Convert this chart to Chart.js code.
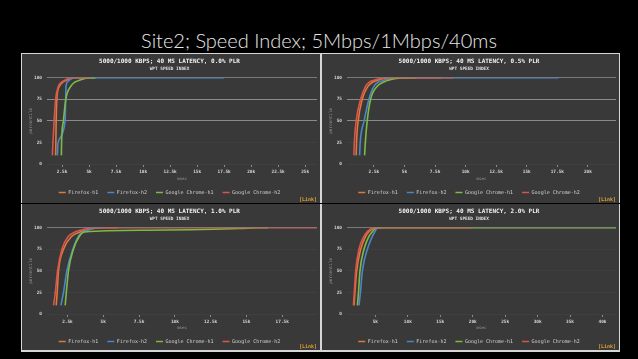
<!DOCTYPE html>
<html>
<head>
<meta charset="utf-8">
<script src="https://cdn.jsdelivr.net/npm/chart.js@4.4.0/dist/chart.umd.min.js"></script>
<style>
  html, body { margin: 0; padding: 0; background: #000; }
  body { width: 638px; height: 359px; position: relative; overflow: hidden; }
  .slide-title { position: absolute; left: 0; top: 27px; width: 638px; text-align: center;
    color: #e8e8e8; font: 300 20px Lato, sans-serif; line-height: 26px; white-space: nowrap; }
  .frame { position: absolute; left: 21px; top: 53px; width: 599px; height: 299px; background: #d6d6d6; }
  .divider { position: absolute; left: 21px; top: 203px; width: 599px; height: 1px; background: #000; }
  .panel { position: absolute; background: #393939; }
  .panel canvas { position: absolute; left: 0; top: 0; }
  .link { position: absolute; right: 3px; bottom: 1px; color: #e0a030;
    font: bold 5px 'DejaVu Sans Mono', monospace; }
</style>
</head>
<body>
<div class="slide-title">Site2; Speed Index; 5Mbps/1Mbps/40ms</div>
<div class="frame"></div>
<div class="divider"></div>
<div class="panel" style="left:22px;top:54px;width:298px;height:149px"><canvas id="chart0"></canvas><span class="link">[Link]</span></div>
<div class="panel" style="left:322px;top:54px;width:297px;height:149px"><canvas id="chart1"></canvas><span class="link">[Link]</span></div>
<div class="panel" style="left:22px;top:204px;width:298px;height:146px"><canvas id="chart2"></canvas><span class="link">[Link]</span></div>
<div class="panel" style="left:322px;top:204px;width:297px;height:146px"><canvas id="chart3"></canvas><span class="link">[Link]</span></div>

<script>
// --- data ---

const seriesNames = ['Firefox-h1', 'Firefox-h2', 'Google Chrome-h1', 'Google Chrome-h2'];
const plrLevels = ['0.0%', '0.5%', '1.0%', '2.0%'];

// percentile levels; the last entry is the end of the flat tail at 100
const percentiles = [10, 25, 50, 75, 90, 95, 97, 99, 100, 100];

// msec at each percentile level, one row per series (same order as seriesNames)
const timesPlr00 = [
  [1900, 1920, 1950, 2010, 2250, 2600, 2900, 3300, 3600, 5500],
  [2060, 2130, 2780, 2830, 2860, 3000, 3150, 3400, 3800, 17500],
  [2430, 2450, 2620, 2840, 3300, 3700, 4100, 4600, 5000, 5600],
  [1600, 1650, 1760, 1900, 2150, 2450, 2750, 3100, 3400, 5000]
];
const timesPlr05 = [
  [1054, 1080, 1217, 1544, 2012, 2421, 2800, 3300, 3727, 8000],
  [1330, 1380, 1700, 2093, 2500, 2900, 3300, 3800, 4272, 17600],
  [1740, 1800, 1953, 2230, 2771, 3315, 3700, 4300, 4812, 6000],
  [866, 900, 1050, 1413, 1820, 2148, 2500, 3000, 3454, 9000]
];
const timesPlr10 = [
  [1715, 1780, 1875, 2222, 2805, 3382, 3800, 4300, 4770, 6000],
  [2042, 2222, 2458, 2875, 3264, 3611, 3900, 4200, 4541, 5000],
  [2340, 2420, 2569, 2916, 3333, 3700, 8000, 14500, 16000, 16500],
  [1528, 1650, 1806, 2111, 2569, 3035, 3400, 3900, 4305, 19930]
];
const timesPlr20 = [
  [1717, 1850, 2123, 2738, 3507, 3950, 4250, 4600, 4783, 6000],
  [2477, 2700, 3000, 3768, 4537, 4900, 5050, 5200, 5306, 6000],
  [2230, 2400, 2630, 3245, 4014, 4500, 4700, 4950, 5045, 42080],
  [1615, 1750, 1969, 2476, 3245, 3700, 4000, 4350, 4537, 20000]
];

// x axis extent and tick positions (msec)
const xAxisMin = [1100, 300, 1070, 630];
const xAxisMax = [26100, 22300, 19930, 42080];
const xTicksPlr00 = [2500, 5000, 7500, 10000, 12500, 15000, 17500, 20000, 22500, 25000];
const xTicksPlr05 = [2500, 5000, 7500, 10000, 12500, 15000, 17500, 20000];
const xTicksPlr10 = [2500, 5000, 7500, 10000, 12500, 15000, 17500];
const xTicksPlr20 = [5000, 10000, 15000, 20000, 25000, 30000, 35000, 40000];
const yTicks = [0, 25, 50, 75, 100];

// --- look ---

const seriesColors = ['#e2783a', '#4a86c8', '#7dbb45', '#d8574c'];
const mono = "'DejaVu Sans Mono', monospace";

const panelData = [timesPlr00, timesPlr05, timesPlr10, timesPlr20];
const panelTicks = [xTicksPlr00, xTicksPlr05, xTicksPlr10, xTicksPlr20];

function gridColor(panelIdx, value) {
  if (value === 100) return '#7a7a7a';
  // the two upper screenshots show the 50/75 lines clearly
  if (panelIdx < 2 && (value === 50 || value === 75)) return '#8a8a8a';
  return '#3f3f3f';
}

function buildDatasets(times) {
  return seriesNames.map((name, s) => ({
    label: name,
    data: times[s].map((t, i) => ({ x: t, y: percentiles[i] })),
    borderColor: seriesColors[s],
    backgroundColor: seriesColors[s],
    borderWidth: 1.6,
    pointRadius: 0,
    cubicInterpolationMode: 'monotone',
    order: -s // later series are painted on top
  }));
}

function buildChart(idx) {
  const isTop = idx < 2;
  const canvas = document.getElementById('chart' + idx);

  return new Chart(canvas, {
    type: 'line',
    data: { datasets: buildDatasets(panelData[idx]) },
    options: {
      responsive: true,
      maintainAspectRatio: false,
      devicePixelRatio: 1,
      animation: false,
      events: [],
      layout: { padding: { left: 0, right: 3, top: 0, bottom: isTop ? -2 : -4 } },
      plugins: {
        title: {
          display: true,
          text: `5000/1000 KBPS; 40 MS LATENCY, ${plrLevels[idx]} PLR`,
          color: '#f2f2f2',
          font: { family: mono, size: 6, weight: 'bold' },
          padding: { top: 3.4, bottom: 0 }
        },
        subtitle: {
          display: true,
          text: 'WPT SPEED INDEX',
          color: '#e0e0e0',
          font: { family: mono, size: 4.4, weight: 'bold' },
          padding: { top: 1.7, bottom: 6.1 }
        },
        legend: {
          position: 'bottom',
          labels: {
            boxWidth: 7,
            boxHeight: 1.5,
            padding: 9,
            color: '#d2d2d2',
            font: { family: mono, size: 5 },
            sort: (a, b) => a.datasetIndex - b.datasetIndex,
            generateLabels: chart => Chart.defaults.plugins.legend.labels
              .generateLabels(chart).map(l => ({ ...l, lineWidth: 0 }))
          }
        },
        tooltip: { enabled: false }
      },
      scales: {
        x: {
          type: 'linear',
          min: xAxisMin[idx],
          max: xAxisMax[idx],
          afterBuildTicks: s => { s.ticks = panelTicks[idx].map(v => ({ value: v })); },
          afterFit: s => { s.height = isTop ? 17 : 16; },
          border: { display: false },
          grid: { drawOnChartArea: false, drawTicks: true, tickLength: 3, color: '#8a8a8a' },
          ticks: {
            autoSkip: false,
            maxRotation: 0,
            padding: 2,
            color: '#d8d8d8',
            font: { family: mono, size: 4.4, weight: 'bold' },
            callback: v => (v / 1000) + 'k'
          },
          title: {
            display: true,
            text: 'msec',
            color: '#9a9a9a',
            font: { family: mono, size: 4.2, lineHeight: 1 },
            padding: { top: 0, bottom: 0 }
          }
        },
        y: {
          min: 0,
          max: 100,
          afterBuildTicks: s => { s.ticks = yTicks.map(v => ({ value: v })); },
          afterFit: s => { s.width = 25; },
          border: { display: false },
          grid: {
            drawTicks: false,
            color: c => gridColor(idx, c.tick ? c.tick.value : -1)
          },
          ticks: {
            padding: 5,
            color: '#d8d8d8',
            font: { family: mono, size: 4.4, weight: 'bold' }
          },
          title: {
            display: true,
            text: 'percentile',
            color: '#9a9a9a',
            font: { family: mono, size: 4.3, lineHeight: 1 },
            padding: { top: 6.5, bottom: 0 }
          }
        }
      }
    }
  });
}

[0, 1, 2, 3].forEach(buildChart);
</script>
</body>
</html>
